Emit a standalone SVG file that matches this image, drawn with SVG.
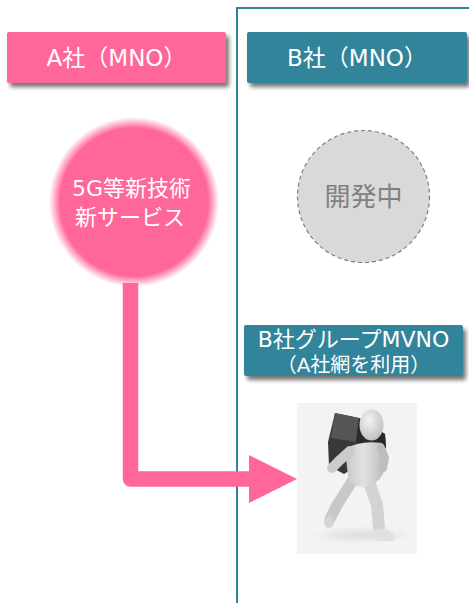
<svg xmlns="http://www.w3.org/2000/svg" width="469" height="603" viewBox="0 0 469 603">
  <style>
    .lbl { font-family: "DejaVu Sans", "Noto Sans CJK JP", sans-serif; fill: #FFFFFF; text-anchor: middle; dominant-baseline: central; }
    .pink { fill: #FF6699; }
    .teal { fill: #31849B; }
    .limb { fill: none; stroke-linecap: round; stroke-linejoin: round; }
  </style>
  <defs>
    <filter id="shadow" x="-10%" y="-20%" width="125%" height="160%">
      <feGaussianBlur in="SourceAlpha" stdDeviation="2"/>
      <feOffset dx="3" dy="4" result="b"/>
      <feComponentTransfer><feFuncA type="linear" slope="0.55"/></feComponentTransfer>
      <feMerge><feMergeNode/><feMergeNode in="SourceGraphic"/></feMerge>
    </filter>
    <radialGradient id="softPink" cx="0.5" cy="0.5" r="0.5">
      <stop offset="0.87" stop-color="#FF6699" stop-opacity="1"/>
      <stop offset="1" stop-color="#FF6699" stop-opacity="0"/>
    </radialGradient>
    <linearGradient id="skin" x1="0" y1="0" x2="1" y2="0">
      <stop offset="0" stop-color="#C6C6C6"/>
      <stop offset="0.45" stop-color="#E2E2E2"/>
      <stop offset="1" stop-color="#B8B8B8"/>
    </linearGradient>
    <radialGradient id="headShade" cx="0.4" cy="0.35" r="0.7">
      <stop offset="0" stop-color="#F4F4F4"/>
      <stop offset="1" stop-color="#BDBDBD"/>
    </radialGradient>
    <radialGradient id="floor" cx="0.5" cy="0.5" r="0.5">
      <stop offset="0" stop-color="#DCDCDC"/>
      <stop offset="1" stop-color="#F3F3F3"/>
    </radialGradient>
  </defs>

  <!-- frame of company B's area -->
  <path d="M237,604 V8 H470" fill="none" stroke="#31849B" stroke-width="2"/>

  <g id="companyA">
    <rect x="7" y="32" width="219" height="51" rx="2" class="pink" filter="url(#shadow)"/>
    <text x="116.5" y="57.5" class="lbl" font-size="23">A社（MNO）</text>
  </g>

  <g id="companyB">
    <rect x="247" y="32" width="220" height="51" rx="2" class="teal" filter="url(#shadow)"/>
    <text x="357" y="57.5" class="lbl" font-size="23">B社（MNO）</text>
  </g>

  <g id="newServices">
    <circle cx="134" cy="202" r="85" fill="url(#softPink)"/>
    <text x="131.5" y="188" class="lbl" font-size="22">5G等新技術</text>
    <text x="130" y="217" class="lbl" font-size="22">新サービス</text>
  </g>

  <g id="inDevelopment">
    <circle cx="363.5" cy="196.5" r="66" fill="#D9D9D9" stroke="#7F7F7F" stroke-width="1.2" stroke-dasharray="4,3"/>
    <text x="363.5" y="197" class="lbl" font-size="26" style="fill:#808080">開発中</text>
  </g>

  <g id="groupMVNO">
    <rect x="244" y="325" width="219" height="51" rx="2" class="teal" filter="url(#shadow)"/>
    <text x="353.5" y="339" class="lbl" font-size="22">B社グループMVNO</text>
    <text x="353.5" y="365" class="lbl" font-size="20">（A社網を利用）</text>
  </g>

  <g id="runner">
    <rect x="297" y="403" width="120" height="151" fill="#F3F3F3"/>
    <!-- floor shadow -->
    <ellipse cx="362" cy="535" rx="52" ry="9" fill="url(#floor)"/>
    <!-- carried box -->
    <polygon points="335,413 359,418 385,434 386,448 344,474 329,466 328,442" fill="#383838"/>
    <polygon points="335,413 359,418 356,442 331,438" fill="#555555"/>
    <polygon points="359,418 385,434 386,448 356,442" fill="#2A2A2A"/>
    <!-- back leg -->
    <polyline class="limb" points="353,480 337,505 330,519" stroke="#C8C8C8" stroke-width="11"/>
    <ellipse cx="329" cy="522" rx="5" ry="6" fill="#D4D4D4"/>
    <!-- front leg -->
    <polyline class="limb" points="369,482 377,505 379,528" stroke="#D3D3D3" stroke-width="12"/>
    <path d="M373,530 Q380,527 388,530 Q397,535 394,541 L378,541 Q372,538 373,530 Z" fill="#E0E0E0"/>
    <!-- torso -->
    <path d="M345,449 Q360,440 382,443 Q387,446 386,460 L383,474 Q377,486 362,487 Q349,486 348,476 Z" fill="url(#skin)"/>
    <!-- arms -->
    <polyline class="limb" points="350,451 339,461 332,468" stroke="#CBCBCB" stroke-width="10"/>
    <polyline class="limb" points="381,448 385,458 383,468" stroke="#BDBDBD" stroke-width="8"/>
    <!-- head -->
    <ellipse cx="371.5" cy="425" rx="12" ry="15.5" fill="url(#headShade)"/>
  </g>

  <g id="connectors">
    <path d="M130.5,283 V479 H252" fill="none" stroke="#FF6699" stroke-width="15.5" stroke-linejoin="round"/>
    <polygon points="249,455 297,479 249,503" fill="#FF6699"/>
  </g>
</svg>
